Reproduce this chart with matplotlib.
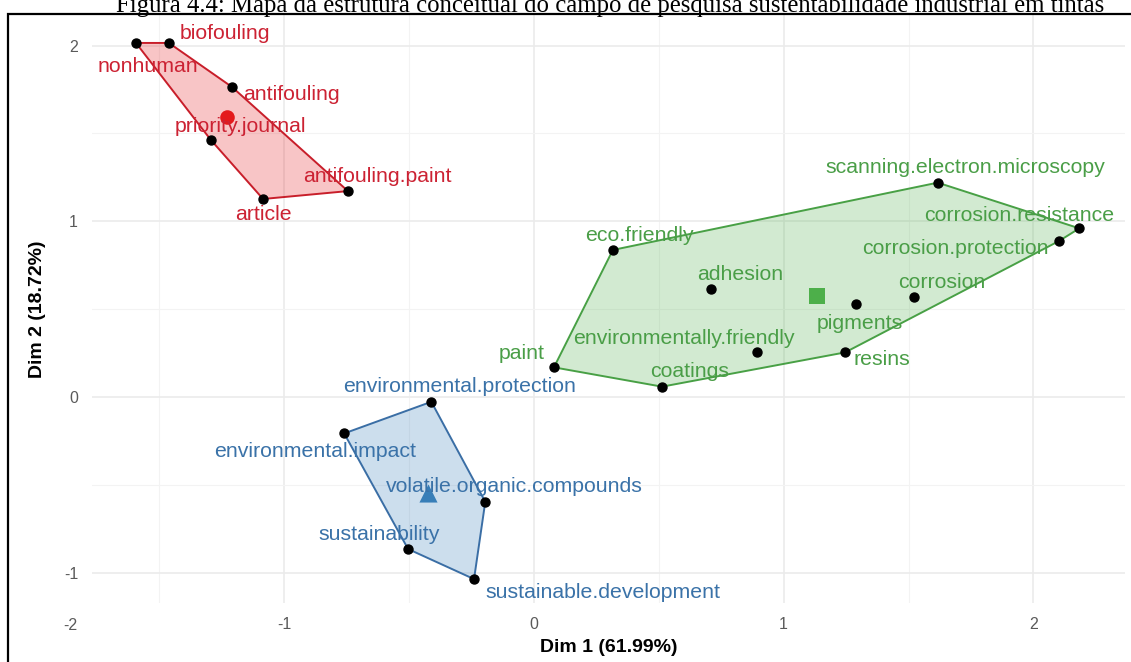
import matplotlib
matplotlib.use("Agg")
import matplotlib.pyplot as plt
from matplotlib.patches import Polygon, Rectangle
import numpy as np

plt.rcParams['font.family'] = ['Liberation Sans', 'DejaVu Sans']
plt.rcParams['axes.unicode_minus'] = False

# cluster 1 (red)
mots_1 = ["nonhuman", "biofouling", "antifouling", "priority.journal", "article", "antifouling.paint"]
x_1 = [-1.594, -1.462, -1.209, -1.294, -1.085, -0.745]
y_1 = [2.015, 2.015, 1.764, 1.463, 1.127, 1.172]
centre_1 = (-1.229, 1.594)

# cluster 2 (green)
mots_2 = ["scanning.electron.microscopy", "corrosion.resistance", "corrosion.protection", "corrosion",
          "pigments", "adhesion", "eco.friendly", "environmentally.friendly", "resins", "coatings", "paint"]
x_2 = [1.617, 2.184, 2.103, 1.521, 1.288, 0.710, 0.316, 0.895, 1.246, 0.513, 0.080]
y_2 = [1.220, 0.960, 0.888, 0.571, 0.529, 0.615, 0.837, 0.254, 0.254, 0.059, 0.169]
centre_2 = (1.135, 0.575)

# cluster 3 (blue)
mots_3 = ["environmental.protection", "environmental.impact", "volatile.organic.compounds",
          "sustainability", "sustainable.development"]
x_3 = [-0.411, -0.760, -0.195, -0.504, -0.240]
y_3 = [-0.027, -0.207, -0.596, -0.865, -1.036]
centre_3 = (-0.423, -0.548)

titre = "Figura 4.4: Mapa da estrutura conceitual do campo de pesquisa sustentabilidade industrial em tintas"
xlab = "Dim 1 (61.99%)"
ylab = "Dim 2 (18.72%)"
xticks = [-1, 0, 1, 2]
yticks = [-1, 0, 1, 2]

# decalage des etiquettes (pixels)
decal = {
    "nonhuman": (12, -24), "biofouling": (56, 9), "antifouling": (59, -7),
    "priority.journal": (30, 13), "article": (0, -16), "antifouling.paint": (29, 15),
    "scanning.electron.microscopy": (28, 15), "corrosion.resistance": (-60, 13),
    "corrosion.protection": (-104, -8), "corrosion": (28, 14), "pigments": (4, -19),
    "adhesion": (29, 14), "eco.friendly": (27, 14), "environmentally.friendly": (-74, 14),
    "resins": (37, -7), "coatings": (28, 15), "paint": (-32, 14),
    "environmental.protection": (28, 15), "environmental.impact": (-29, -18),
    "volatile.organic.compounds": (29, 15), "sustainability": (-29, 15),
    "sustainable.development": (129, -13),
}


def enveloppe(pts):
    pts = sorted(set(pts))
    def cross(o, a, b):
        return (a[0]-o[0])*(b[1]-o[1]) - (a[1]-o[1])*(b[0]-o[0])
    bas = []
    for p in pts:
        while len(bas) >= 2 and cross(bas[-2], bas[-1], p) <= 0:
            bas.pop()
        bas.append(p)
    haut = []
    for p in reversed(pts):
        while len(haut) >= 2 and cross(haut[-2], haut[-1], p) <= 0:
            haut.pop()
        haut.append(p)
    return bas[:-1] + haut[:-1]


def trace_cluster(ax, mots, xs, ys, centre, couleur, bord, couleur_txt, marqueur, taille):
    hull = enveloppe(list(zip(xs, ys)))
    ax.add_patch(Polygon(hull, closed=True, facecolor=couleur, alpha=0.25, edgecolor='none', zorder=2))
    ax.add_patch(Polygon(hull, closed=True, fill=False, edgecolor=bord, lw=1.4, zorder=3))
    ax.scatter(xs, ys, s=42, color='black', zorder=4)
    ax.scatter([centre[0]], [centre[1]], s=taille, color=couleur, marker=marqueur, zorder=5, linewidths=0)
    for m, x, y in zip(mots, xs, ys):
        dx, dy = decal[m]
        ax.annotate(m, (x, y), xytext=(dx, dy), textcoords='offset pixels',
                    ha='center', va='center', fontsize=15.3, color=couleur_txt, zorder=6)


fig = plt.figure(figsize=(11.31, 6.62), dpi=100)
W, H = 1131, 662
ax = fig.add_axes([92/W, (H-603)/H, (1125-92)/W, (603-15)/H])

ax.set_xticks(xticks)
ax.set_yticks(yticks)
ax.set_xticks(np.arange(-1.5, 2.5, 1.0), minor=True)
ax.set_yticks(np.arange(-0.5, 2.0, 1.0), minor=True)
ax.grid(which='major', color='#EBEBEB', lw=1.2, zorder=0)
ax.grid(which='minor', color='#F3F3F3', lw=0.8, zorder=0)
ax.set_axisbelow(True)
for s in ax.spines.values():
    s.set_visible(False)
ax.tick_params(which='both', length=0, pad=10, labelsize=11.5, labelcolor='#5A5A5A')

trace_cluster(ax, mots_1, x_1, y_1, centre_1, '#E41A1C', '#C81E2A', '#CC2233', 'o', 110)
trace_cluster(ax, mots_2, x_2, y_2, centre_2, '#4DAF4A', '#48A045', '#4A9E47', 's', 120)
trace_cluster(ax, mots_3, x_3, y_3, centre_3, '#377EB8', '#3A6EA5', '#3A72A8', '^', 170)

ax.set_xlim(-1.770, 2.367)
ax.set_ylim(-1.172, 2.174)

ax.set_xlabel(xlab, fontsize=14, fontweight='bold', va='center')
ax.xaxis.set_label_coords(0.5, -44/588)
ax.set_ylabel(ylab, fontsize=14, fontweight='bold', va='center')
ax.yaxis.set_label_coords((38-92)/1033, 0.5)

# etiquette -2 isolee en bas a gauche
fig.text(70/W, 1-625/H, "-2", ha='center', va='center', fontsize=11.5, color='#5A5A5A')

fig.text(610/W, 1-12/H, titre, ha='center', va='baseline', fontsize=17.8,
         family=['Liberation Serif', 'DejaVu Serif'])

fig.patches.append(Rectangle((8/W, -0.1), 1.2, (H-14)/H + 0.1, fill=False, edgecolor='black',
                             lw=1.6, transform=fig.transFigure, figure=fig))

fig.savefig("out.png", dpi=100)
